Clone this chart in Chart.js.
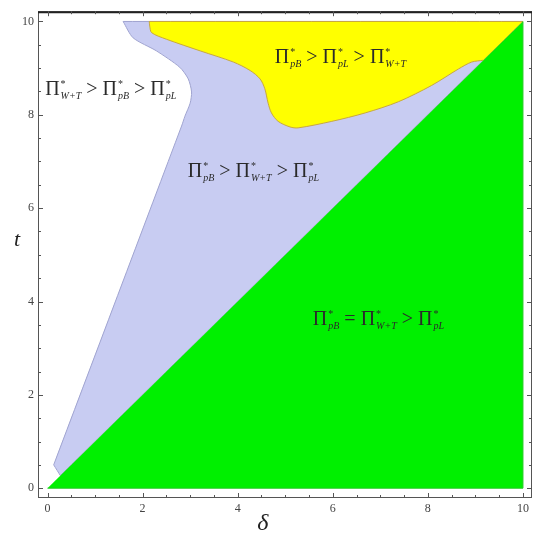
<!DOCTYPE html>
<html>
<head>
<meta charset="utf-8">
<script src="https://cdn.jsdelivr.net/npm/chart.js@4.4.1/dist/chart.umd.min.js"></script>
<style>
  body { margin: 0; background: #fff; }
  #wrap { width: 535px; height: 542px; }
</style>
</head>
<body>
<div id="wrap"><canvas id="myChart"></canvas></div>
<script>
  'use strict';

  // tick labels
  const xTicks = [0, 2, 4, 6, 8, 10];
  const yTicks = [0, 2, 4, 6, 8, 10];

  // green region: t below delta
  const greenDelta = [0, 10, 10];
  const greenT = [0, 0, 10];

  // yellow region (top right); corner points repeated so the spline keeps them sharp
  const yellowDelta = [2.14, 2.15, 2.19, 2.50, 3.21, 3.91, 4.26, 4.47, 4.57, 4.64, 4.71, 4.85, 5.10, 5.27, 5.98, 6.68, 7.38, 8.08, 8.64, 8.92, 9.17, 9.18, 9.18, 10, 10, 2.14];
  const yellowT = [10, 9.90, 9.76, 9.62, 9.37, 9.13, 8.95, 8.77, 8.56, 8.25, 8.04, 7.86, 7.74, 7.72, 7.86, 8.04, 8.28, 8.63, 8.98, 9.13, 9.17, 9.18, 9.18, 10, 10, 10];

  // lavender region (between white area and diagonal)
  const blueDelta = [1.59, 10, 10, 0.27, 0.27, 0.13, 0.13, 2.82, 2.89, 3.00, 3.03, 2.96, 2.78, 2.29, 1.80, 1.59];
  const blueT = [10, 10, 10, 0.27, 0.27, 0.50, 0.50, 7.76, 7.97, 8.25, 8.49, 8.77, 9.02, 9.37, 9.65, 10];

  // region labels
  const labelDelta = [-0.05, 4.78, 2.95, 5.58];
  const labelT = [8.43, 9.10, 6.66, 3.50];
  const labelTerms = [['W+T', 'pB', 'pL'], ['pB', 'pL', 'W+T'], ['pB', 'W+T', 'pL'], ['pB', 'W+T', 'pL']];
  const labelOps = [['>', '>'], ['>', '>'], ['>', '>'], ['=', '>']];

  const toPoints = function(xs, ys){
    return xs.map(function(x, i){ return {x: x, y: ys[i]}; });
  };

  const serif = '"Liberation Serif", "DejaVu Serif", serif';

  const drawTerm = function(ctx, x, y, sub){
    ctx.font = '20px ' + serif;
    ctx.fillText('\u03A0', x, y);
    x += ctx.measureText('\u03A0').width + 1;
    ctx.font = '10px ' + serif;
    ctx.fillText('*', x, y - 8);
    const starW = ctx.measureText('*').width;
    ctx.font = 'italic 10px ' + serif;
    ctx.fillText(sub, x, y + 4);
    const subW = ctx.measureText(sub).width;
    return x + Math.max(starW, subW);
  };

  const regionLabels = {
    id: 'regionLabels',
    afterDatasetsDraw: function(chart){
      const ctx = chart.ctx;
      const xs = chart.scales.x;
      const ys = chart.scales.y;
      ctx.save();
      ctx.fillStyle = '#2a2a2a';
      ctx.textBaseline = 'alphabetic';
      ctx.textAlign = 'left';
      for(let i = 0; i < labelTerms.length; i++){
        let px = xs.getPixelForValue(labelDelta[i]);
        const py = ys.getPixelForValue(labelT[i]);
        for(let j = 0; j < labelTerms[i].length; j++){
          px = drawTerm(ctx, px, py, labelTerms[i][j]);
          if(j < labelOps[i].length){
            ctx.font = '20px ' + serif;
            const op = ' ' + labelOps[i][j] + ' ';
            ctx.fillText(op, px, py);
            px += ctx.measureText(op).width;
          }
        }
      }
      ctx.restore();
    },
    afterDraw: function(chart){
      const ctx = chart.ctx;
      const area = chart.chartArea;
      const xs = chart.scales.x;
      const ys = chart.scales.y;
      ctx.save();
      // frame
      ctx.strokeStyle = '#555';
      ctx.lineWidth = 1;
      ctx.strokeRect(area.left + 0.5, area.top + 0.5, area.right - area.left - 1, area.bottom - area.top - 1);
      ctx.strokeStyle = '#222';
      ctx.lineWidth = 2;
      ctx.beginPath();
      ctx.moveTo(area.left, area.top + 1);
      ctx.lineTo(area.right, area.top + 1);
      ctx.stroke();
      // ticks pointing inward on all four sides
      ctx.strokeStyle = '#555';
      ctx.lineWidth = 1;
      ctx.beginPath();
      for(let v = 0; v <= 10.001; v += 0.5){
        const len = (Math.round(v) === v && v % 2 === 0) ? 5 : 3;
        const px = Math.round(xs.getPixelForValue(v)) + 0.5;
        const py = Math.round(ys.getPixelForValue(v)) + 0.5;
        ctx.moveTo(px, area.bottom); ctx.lineTo(px, area.bottom - len);
        ctx.moveTo(px, area.top); ctx.lineTo(px, area.top + len);
        ctx.moveTo(area.left, py); ctx.lineTo(area.left + len, py);
        ctx.moveTo(area.right, py); ctx.lineTo(area.right - len, py);
      }
      ctx.stroke();
      // axis titles
      ctx.fillStyle = '#222';
      ctx.textAlign = 'center';
      ctx.textBaseline = 'middle';
      ctx.font = 'italic 24px ' + serif;
      ctx.fillText('\u03B4', area.left + (area.right - area.left) * 0.455, 524);
      ctx.font = 'italic 22px ' + serif;
      ctx.fillText('t', 17, area.top + (area.bottom - area.top) * 0.47);
      ctx.restore();
    }
  };

  const initChart = function(){
    const ctx = document.getElementById('myChart').getContext('2d');
    // eslint-disable-next-line no-undef, no-unused-vars
    const myChart = new Chart(ctx, {
      type: 'line',
      data: {
        datasets: [
          {
            label: 'green',
            data: toPoints(greenDelta, greenT),
            backgroundColor: '#00f000',
            borderColor: '#22cc22',
            borderWidth: 1,
            fill: 'shape',
            pointRadius: 0,
            order: 0,
          },
          {
            label: 'yellow',
            data: toPoints(yellowDelta, yellowT),
            backgroundColor: '#ffff00',
            borderColor: '#c8a840',
            borderWidth: 1,
            fill: 'shape',
            tension: 0.3,
            pointRadius: 0,
            order: 1,
          },
          {
            label: 'lavender',
            data: toPoints(blueDelta, blueT),
            backgroundColor: '#c8ccf2',
            borderColor: '#a0a4d0',
            borderWidth: 1,
            fill: 'shape',
            tension: 0.25,
            pointRadius: 0,
            order: 2,
          }
        ]
      },
      options: {
        responsive: true,
        maintainAspectRatio: false,
        animation: false,
        layout: {
          padding: { top: 3, right: 3, left: 0, bottom: 0 },
        },
        plugins: {
          legend: { display: false },
          tooltip: { enabled: false },
        },
        scales: {
          x: {
            type: 'linear',
            min: -0.2,
            max: 10.19,
            grid: { display: false, drawTicks: false },
            border: { display: false },
            afterBuildTicks: function(scale){
              scale.ticks = xTicks.map(function(v){ return {value: v}; });
            },
            afterFit: function(scale){
              scale.height = 44;
            },
            ticks: {
              padding: 4,
              color: '#444',
              font: { family: serif, size: 12 },
              maxRotation: 0,
            },
          },
          y: {
            type: 'linear',
            min: -0.21,
            max: 10.22,
            grid: { display: false, drawTicks: false },
            border: { display: false },
            afterBuildTicks: function(scale){
              scale.ticks = yTicks.map(function(v){ return {value: v}; });
            },
            afterFit: function(scale){
              scale.width = 38;
            },
            ticks: {
              padding: 4,
              color: '#444',
              font: { family: serif, size: 12 },
            },
          }
        }
      },
      plugins: [regionLabels],
    });
  };

  initChart();
</script>
</body>
</html>
